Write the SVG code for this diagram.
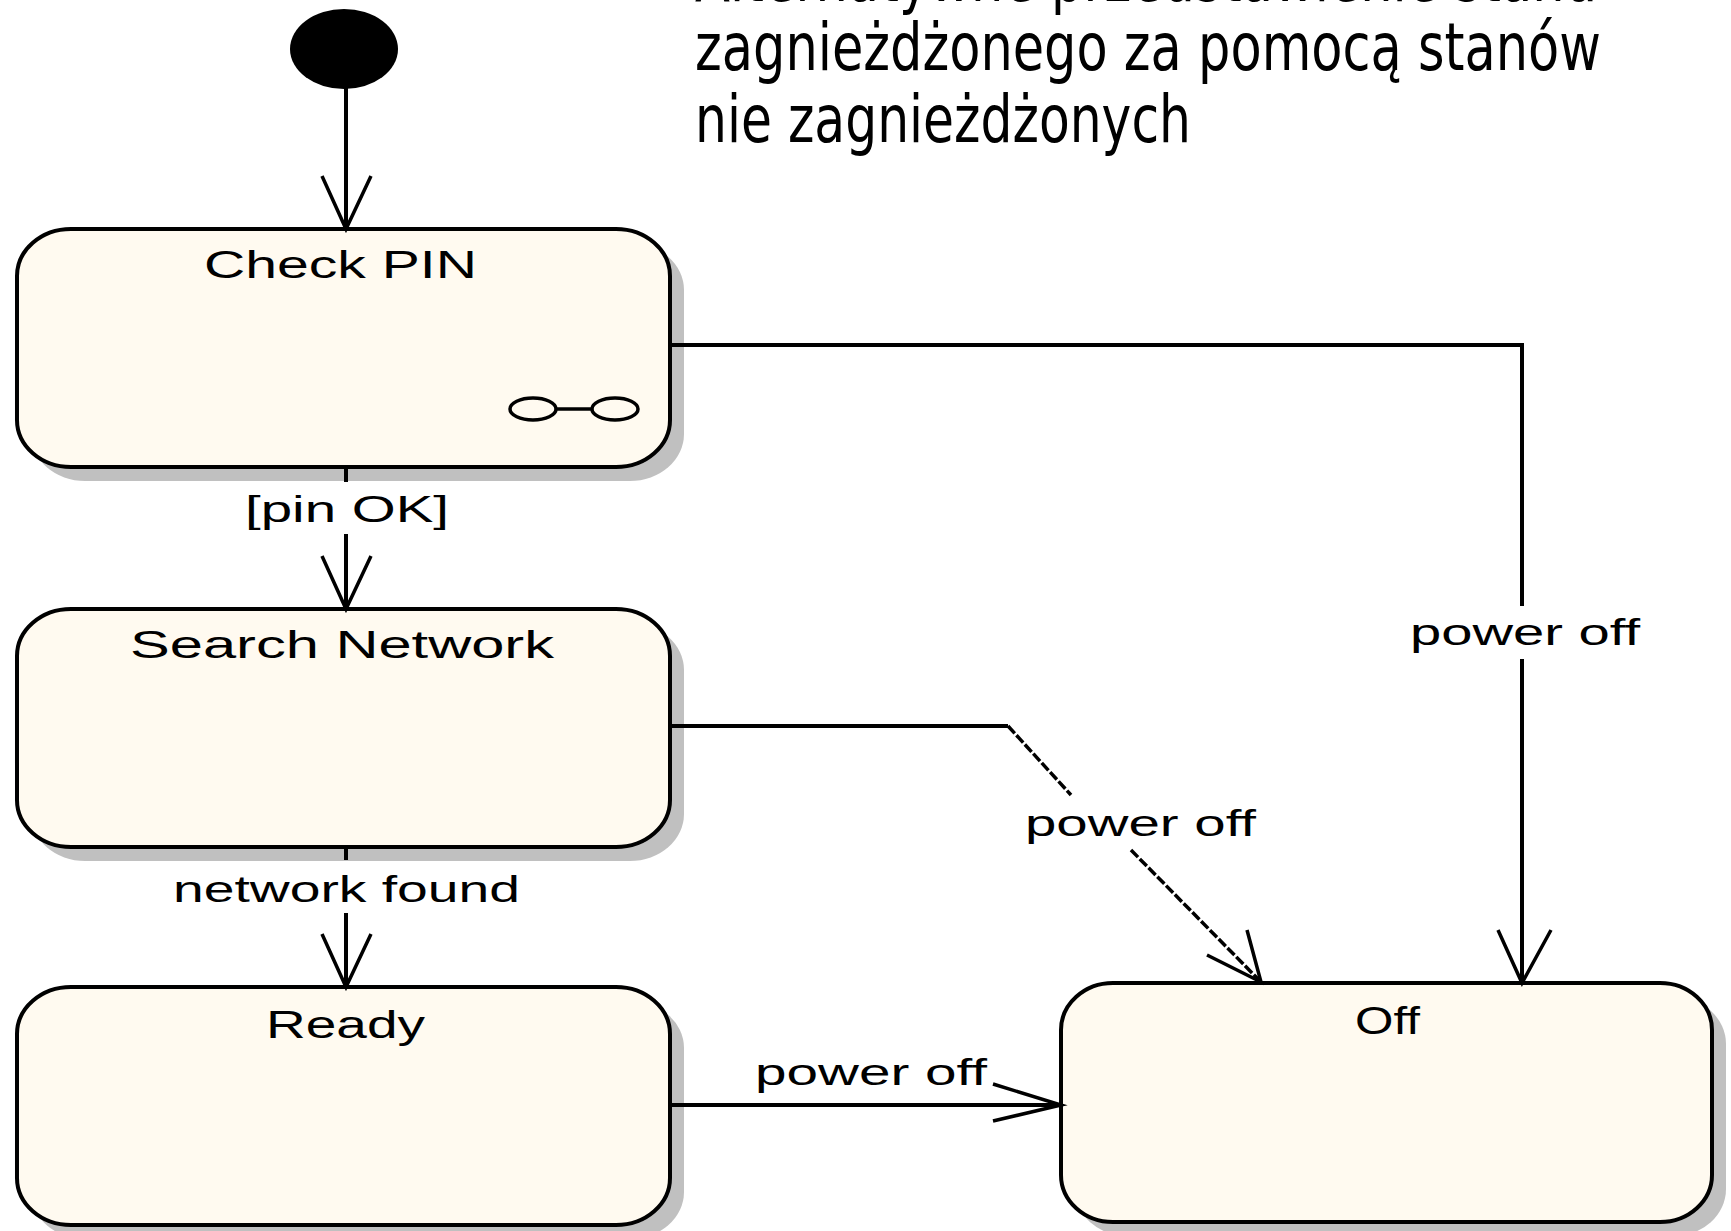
<svg xmlns="http://www.w3.org/2000/svg" width="1731" height="1231" viewBox="0 0 1731 1231">
  <style>
    .shadow { fill: #c0c0c0; }
    .state { fill: #fffaf0; stroke: #000; stroke-width: 4; }
    .name { font-family: "Liberation Sans", Arial, sans-serif; font-size: 38px; fill: #000; }
    .label { font-family: "Liberation Sans", Arial, sans-serif; font-size: 36px; fill: #000; }
    .title { font-family: "DejaVu Sans Condensed", "DejaVu Sans", Verdana, sans-serif; font-size: 66px; fill: #000; }
    .line { fill: none; stroke: #000; stroke-width: 4; }
    .thin { fill: none; stroke: #000; stroke-width: 3.5; stroke-dasharray: 10 2.5; }
    .arrow { fill: none; stroke: #000; stroke-width: 3.5; stroke-linejoin: miter; }
    .icon { fill: none; stroke: #000; stroke-width: 3.5; }
  </style>

  <rect width="1731" height="1231" fill="#fff"/>

  <!-- heading (first line runs off the top edge) -->
  <g id="title">
    <text class="title" x="695" y="1" textLength="902" lengthAdjust="spacingAndGlyphs">Alternatywne przedstawienie stanu</text>
    <text class="title" x="695" y="70" textLength="906" lengthAdjust="spacingAndGlyphs">zagnieżdżonego za pomocą stanów</text>
    <text class="title" x="695" y="142" textLength="496" lengthAdjust="spacingAndGlyphs">nie zagnieżdżonych</text>
  </g>

  <!-- initial pseudo-state -->
  <g id="initial">
    <ellipse cx="344" cy="49" rx="54" ry="40" fill="#000"/>
  </g>

  <!-- states -->
  <g id="check-pin">
    <rect class="shadow" x="31" y="243" width="653" height="238" rx="54" ry="47"/>
    <rect class="state" x="17" y="229" width="653" height="238" rx="54" ry="47"/>
    <text class="name" x="204" y="278" textLength="273" lengthAdjust="spacingAndGlyphs">Check PIN</text>
    <!-- composite-state marker -->
    <ellipse class="icon" cx="533" cy="409" rx="23" ry="11"/>
    <ellipse class="icon" cx="615" cy="409" rx="23" ry="11"/>
    <line class="icon" x1="556" y1="409" x2="592" y2="409"/>
  </g>

  <g id="search-network">
    <rect class="shadow" x="31" y="623" width="653" height="238" rx="54" ry="47"/>
    <rect class="state" x="17" y="609" width="653" height="238" rx="54" ry="47"/>
    <text class="name" x="130" y="658" textLength="424" lengthAdjust="spacingAndGlyphs">Search Network</text>
  </g>

  <g id="ready">
    <rect class="shadow" x="31" y="1001" width="653" height="238" rx="54" ry="47"/>
    <rect class="state" x="17" y="987" width="653" height="238" rx="54" ry="47"/>
    <text class="name" x="266" y="1038" textLength="159" lengthAdjust="spacingAndGlyphs">Ready</text>
  </g>

  <g id="off">
    <rect class="shadow" x="1075" y="997" width="651" height="239" rx="52" ry="47"/>
    <rect class="state" x="1061" y="983" width="651" height="239" rx="52" ry="47"/>
    <text class="name" x="1355" y="1034" textLength="65" lengthAdjust="spacingAndGlyphs">Off</text>
  </g>

  <!-- transitions -->
  <g id="connectors">
    <!-- initial to Check PIN -->
    <line class="line" x1="346" y1="88" x2="346" y2="229"/>
    <polyline class="arrow" points="322,176 346,229 371,176"/>

    <!-- Check PIN to Search Network -->
    <line class="line" x1="346" y1="467" x2="346" y2="482"/>
    <text class="label" x="245" y="522" textLength="204" lengthAdjust="spacingAndGlyphs">[pin OK]</text>
    <line class="line" x1="346" y1="534" x2="346" y2="609"/>
    <polyline class="arrow" points="322,556 346,609 371,556"/>

    <!-- Search Network to Ready -->
    <line class="line" x1="346" y1="847" x2="346" y2="860"/>
    <text class="label" x="173" y="902" textLength="347" lengthAdjust="spacingAndGlyphs">network found</text>
    <line class="line" x1="346" y1="913" x2="346" y2="987"/>
    <polyline class="arrow" points="322,934 346,987 371,934"/>

    <!-- Check PIN to Off -->
    <polyline class="line" points="670,345 1522,345 1522,606"/>
    <text class="label" x="1410" y="645" textLength="230" lengthAdjust="spacingAndGlyphs">power off</text>
    <line class="line" x1="1522" y1="659" x2="1522" y2="983"/>
    <polyline class="arrow" points="1498,930 1522,983 1551,930"/>

    <!-- Search Network to Off -->
    <line class="line" x1="670" y1="726" x2="1008" y2="726"/>
    <line class="thin" x1="1008" y1="726" x2="1071" y2="795"/>
    <text class="label" x="1025" y="836" textLength="231" lengthAdjust="spacingAndGlyphs">power off</text>
    <line class="thin" x1="1131" y1="850" x2="1261" y2="982"/>
    <polyline class="arrow" points="1207,955 1261,982 1247,930"/>

    <!-- Ready to Off -->
    <line class="line" x1="670" y1="1105" x2="1061" y2="1105"/>
    <text class="label" x="755" y="1085" textLength="232" lengthAdjust="spacingAndGlyphs">power off</text>
    <polyline class="arrow" points="993,1084 1061,1105 993,1121"/>
  </g>
</svg>
